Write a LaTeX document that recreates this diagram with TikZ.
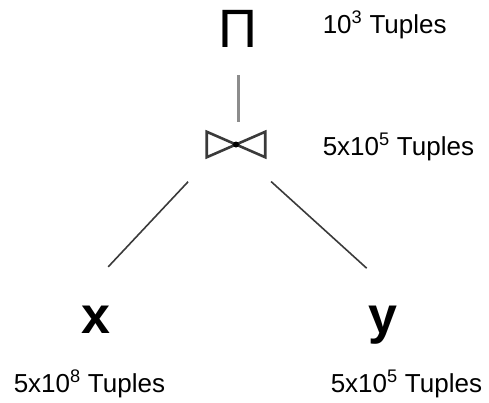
\documentclass[tikz,border=0pt]{standalone}
\usepackage{fontspec}
\setmainfont{Liberation Sans}
\usetikzlibrary{positioning, calc}
\definecolor{cdark}{HTML}{3A3A3A}
\definecolor{cgrey}{HTML}{8C8C8C}
\tikzset{
  every picture/.style={line width=1.5pt},
  tuples/.style={anchor=base west, inner sep=0pt, font=\fontsize{26}{30}\selectfont},
  rel/.style={anchor=base, inner sep=0pt, font=\fontsize{52}{60}\selectfont\bfseries},
  edge/.style={draw=cdark, line width=1.6pt},
  proj/.style={inner sep=0pt, font=\fontsize{54}{60}\selectfont},
  bowtie/.style={minimum width=57pt, minimum height=24pt, inner sep=0pt},
}

\begin{document}
\begin{tikzpicture}[x=1pt, y=-1pt]
  \useasboundingbox (0,0) rectangle (489,402);
  % operators
  \node[proj] (pi) at (238,29) {Π};
  \node[bowtie] (join) at (236,144.5) {};
  \draw[cdark, line width=2.6pt, line join=miter]
    (join.north west) -- (join.south west) -- (join.north east)
    -- (join.south east) -- cycle;
  \fill[black] (join.center) circle (3);
  % relations
  \node[rel] (x) at (96,333) {x};
  \node[rel] (y) at (383,333) {y};
  % tree
  \draw[cgrey, line width=3pt, shorten <=27pt, shorten >=9.5pt]
    (pi.south) -- (pi.south |- join.north);
  \draw[edge, shorten <=33.5pt, shorten >=52pt]
    ([xshift=4.3pt]join.south west) -- ([xshift=-23.4pt]x.north);
  \draw[edge, shorten <=36.2pt, shorten >=54.5pt]
    ([xshift=8.3pt]join.south) -- ([xshift=24pt]y.north);
  % sizes
  \node[tuples] (npi) at (322,33) {10\textsuperscript{3} Tuples};
  \node[tuples] (njoin) at (322,155) {5x10\textsuperscript{5} Tuples};
  \node[tuples] (nx) at (13,392) {5x10\textsuperscript{8} Tuples};
  \node[tuples] (ny) at (330,392) {5x10\textsuperscript{5} Tuples};
\end{tikzpicture}
\end{document}
